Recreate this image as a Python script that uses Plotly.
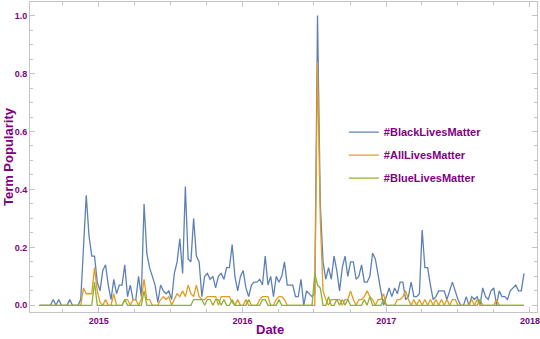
import pandas as pd
import plotly.graph_objects as go

start_date = "2014-08-03"
n_weeks = 177

black_lives = [
    0, 0, 0, 0, 0, 0.02, 0, 0.02, 0, 0,
    0, 0.02, 0, 0, 0, 0.02, 0.2, 0.38, 0.24, 0.17,
    0.17, 0.08, 0.05, 0.12, 0.14, 0.07, 0.02, 0.09, 0.04, 0.07,
    0.07, 0.14, 0.03, 0.07, 0.02, 0.02, 0.1, 0.03, 0.35, 0.18,
    0.13, 0.1, 0.07, 0.01, 0.07, 0.05, 0.04, 0.05, 0.02, 0.11,
    0.15, 0.23, 0.11, 0.41, 0.16, 0.15, 0.3, 0.17, 0.15, 0.03,
    0.1, 0.11, 0.09, 0.1, 0.06, 0.1, 0.11, 0.09, 0.13, 0.13,
    0.21, 0.1, 0.05, 0.1, 0.12, 0.06, 0.03, 0.07, 0.08, 0.08,
    0.09, 0.07, 0.17, 0.07, 0.1, 0.03, 0.1, 0.08, 0.1, 0.15,
    0.07, 0.07, 0.07, 0.03, 0.03, 0.09, 0.0, 0.05, 0.04, 0.03,
    0.04, 1.0, 0.35, 0.15, 0.09, 0.13, 0.09, 0.17, 0.12, 0.05,
    0.13, 0.17, 0.1, 0.15, 0.15, 0.09, 0.1, 0.14, 0.08, 0.08,
    0.1, 0.18, 0.16, 0.1, 0.05, 0.0, 0.03, 0.06, 0.03, 0.06,
    0.04, 0.08, 0.08, 0.02, 0.03, 0.08, 0.03, 0.03, 0.04, 0.26,
    0.13, 0.13, 0.07, 0.02, 0.03, 0.05, 0.05, 0.05, 0.02, 0.05,
    0.08, 0.05, 0.02, 0.0, 0.0, 0.03, 0.0, 0.03, 0.02, 0.03,
    0.0, 0.06, 0.03, 0.02, 0.05, 0.06, 0.0, 0.05, 0.03, 0.03,
    0.02, 0.05, 0.06, 0.07, 0.05, 0.05, 0.11,
]

all_lives = [
    0, 0, 0, 0, 0, 0, 0, 0, 0, 0,
    0, 0, 0, 0, 0, 0, 0.06, 0.04, 0.04, 0.04,
    0.13, 0.05, 0.01, 0, 0.02, 0, 0, 0.04, 0, 0,
    0, 0.02, 0.02, 0, 0.02, 0.02, 0, 0.02, 0.09, 0.02,
    0.02, 0, 0, 0, 0.02, 0.03, 0.02, 0.03, 0, 0.02,
    0.04, 0.03, 0.05, 0.03, 0.07, 0.04, 0.03, 0.07, 0.03, 0.02,
    0.02, 0.03, 0.03, 0.03, 0.03, 0, 0.03, 0.03, 0.03, 0.03,
    0.01, 0, 0.02, 0, 0, 0.02, 0, 0, 0, 0,
    0.02, 0.03, 0.03, 0.03, 0, 0, 0.02, 0.03, 0.03, 0.02,
    0, 0, 0, 0, 0, 0, 0, 0, 0, 0,
    0, 0.84, 0.3, 0.05, 0.02, 0, 0.02, 0.02, 0.02, 0.02,
    0, 0.02, 0.02, 0.05, 0.02, 0, 0.02, 0.02, 0.03, 0.05,
    0.03, 0.02, 0, 0.02, 0.02, 0.04, 0, 0, 0, 0,
    0.02, 0.02, 0.03, 0.05, 0.02, 0, 0.02, 0, 0.02, 0,
    0.02, 0, 0.02, 0, 0.02, 0, 0.02, 0, 0.02, 0,
    0.02, 0.02, 0, 0, 0, 0, 0, 0.02, 0, 0.02,
    0, 0, 0, 0, 0, 0, 0.02, 0, 0, 0,
    0, 0, 0, 0, 0, 0, 0,
]

blue_lives = [
    0, 0, 0, 0, 0, 0, 0, 0, 0, 0,
    0, 0, 0, 0, 0, 0, 0, 0, 0, 0,
    0.08, 0, 0, 0, 0, 0, 0, 0, 0, 0,
    0, 0.02, 0, 0, 0, 0, 0, 0, 0.05, 0,
    0, 0, 0, 0, 0, 0, 0, 0, 0, 0,
    0, 0, 0, 0, 0, 0, 0.02, 0.02, 0.02, 0.02,
    0, 0.02, 0.02, 0, 0.02, 0.02, 0, 0.02, 0, 0,
    0.02, 0, 0, 0, 0, 0, 0.02, 0, 0, 0,
    0, 0.02, 0.02, 0, 0, 0, 0, 0.02, 0, 0,
    0, 0, 0, 0, 0, 0, 0, 0, 0, 0,
    0.11, 0.07, 0.06, 0, 0, 0.03, 0, 0, 0.02, 0,
    0.02, 0, 0.02, 0, 0, 0, 0, 0, 0.02, 0,
    0.03, 0, 0, 0, 0, 0.02, 0, 0, 0, 0,
    0, 0, 0, 0, 0, 0, 0, 0, 0, 0,
    0, 0, 0, 0, 0, 0, 0, 0, 0, 0,
    0, 0, 0, 0, 0, 0, 0, 0, 0, 0,
    0.02, 0, 0, 0, 0, 0, 0, 0, 0, 0,
    0, 0, 0, 0, 0, 0, 0,
]

series_names = ["#BlackLivesMatter", "#AllLivesMatter", "#BlueLivesMatter"]
series_colors = ["#5E81B5", "#E19C24", "#8FB032"]

year_ticks = ["2015-01-01", "2016-01-01", "2017-01-01", "2018-01-01"]
year_labels = ["2015", "2016", "2017", "2018"]
y_ticks = [0, 0.2, 0.4, 0.6, 0.8, 1.0]
y_labels = ["0.0", "0.2", "0.4", "0.6", "0.8", "1.0"]

dates = pd.date_range(start_date, periods=n_weeks, freq="7D")

PURPLE = "#800080"
FRAME = "#c4c4c4"
FONT = "Liberation Sans"

fig = go.Figure()
for k, (name, vals, col) in enumerate(zip(series_names, [black_lives, all_lives, blue_lives], series_colors)):
    fig.add_trace(go.Scatter(
        x=dates, y=vals, mode="lines", name=name, legendgroup=f"g{k}",
        line=dict(color=col, width=1.3),
    ))

fig.update_layout(
    width=540, height=339,
    margin=dict(l=30, r=3, t=2, b=27),
    plot_bgcolor="white", paper_bgcolor="white",
    font=dict(family=FONT, color=PURPLE),
    showlegend=True,
    legend=dict(
        x=0.619, y=0.506, xanchor="left", yanchor="middle",
        bgcolor="rgba(0,0,0,0)",
        font=dict(family=FONT, size=11, color=PURPLE, weight="bold"),
        itemwidth=30, tracegroupgap=4,
    ),
)

fig.update_xaxes(
    type="date", automargin=False,
    range=["2014-07-10", "2018-01-19"],
    tickvals=year_ticks, ticktext=year_labels,
    ticks="inside", ticklen=5, tickcolor=FRAME, tickwidth=1,
    minor=dict(dtick="M3", tick0="2015-01-01", ticks="inside", ticklen=3, tickcolor=FRAME, showgrid=False),
    showline=True, linecolor=FRAME, linewidth=1, mirror="allticks",
    showgrid=False, zeroline=False,
    tickfont=dict(family=FONT, size=9, color=PURPLE, weight="bold"),
)
fig.update_yaxes(
    automargin=False,
    range=[-0.023, 1.047],
    tickvals=y_ticks, ticktext=y_labels,
    ticks="inside", ticklen=5, tickcolor=FRAME, tickwidth=1,
    minor=dict(dtick=0.05, tick0=0, ticks="inside", ticklen=3, tickcolor=FRAME, showgrid=False),
    showline=True, linecolor=FRAME, linewidth=1, mirror="allticks",
    showgrid=False, zeroline=False,
    tickfont=dict(family=FONT, size=9, color=PURPLE, weight="bold"),
)

fig.add_annotation(
    text="Date", xref="paper", yref="paper", x=0.473, y=-0.083,
    xanchor="center", yanchor="bottom", showarrow=False, borderpad=0,
    font=dict(family=FONT, size=13, color=PURPLE, weight="bold"),
)
fig.add_annotation(
    text="Term Popularity", xref="paper", yref="paper", x=-0.0434, y=0.503,
    xanchor="center", yanchor="middle", showarrow=False, textangle=-90,
    font=dict(family=FONT, size=13, color=PURPLE, weight="bold"),
)

fig.write_html(
    "out.html",
    config={"displayModeBar": False},
    post_script="document.body.style.margin='0';document.body.style.overflow='hidden';",
)
